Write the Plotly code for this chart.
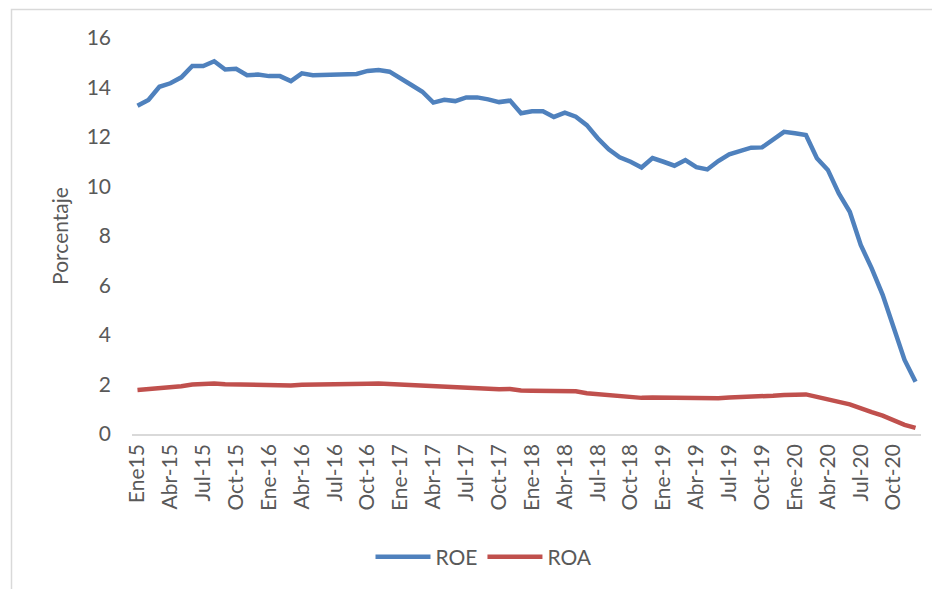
import plotly.graph_objects as go

months = ["Ene", "Feb", "Mar", "Abr", "May", "Jun", "Jul", "Ago", "Sep", "Oct", "Nov", "Dic"]
years = ["15", "16", "17", "18", "19", "20"]
categories = [f"{m}-{y}" for y in years for m in months]

roe = [13.26, 13.50, 14.03, 14.17, 14.41, 14.87, 14.87, 15.06, 14.73, 14.76, 14.50, 14.52,
       14.46, 14.46, 14.26, 14.57, 14.50, 14.52, 14.50, 14.52, 14.55, 14.67, 14.71, 14.64,
       14.35, 14.10, 13.83, 13.39, 13.50, 13.45, 13.60, 13.60, 13.52, 13.41, 13.47, 12.96,
       13.04, 13.04, 12.81, 12.98, 12.82, 12.48, 11.95, 11.50, 11.18, 11.00, 10.77, 11.15,
       11.00, 10.84, 11.07, 10.78, 10.69, 11.03, 11.30, 11.43, 11.57, 11.58, 11.90, 12.21,
       12.15, 12.08, 11.14, 10.67, 9.72, 8.98, 7.64, 6.69, 5.62, 4.34, 2.99, 2.11]

roa = [1.78, 1.81, 1.88, 1.90, 1.93, 2.00, 2.03, 2.04, 2.01, 2.00, 1.98, 1.98,
       1.98, 1.98, 1.96, 1.99, 1.99, 2.00, 2.00, 2.00, 2.01, 2.03, 2.04, 2.02,
       2.00, 1.98, 1.96, 1.91, 1.88, 1.86, 1.86, 1.86, 1.84, 1.81, 1.82, 1.76,
       1.75, 1.75, 1.73, 1.74, 1.73, 1.65, 1.61, 1.57, 1.52, 1.49, 1.46, 1.47,
       1.46, 1.44, 1.47, 1.42, 1.41, 1.44, 1.47, 1.48, 1.50, 1.53, 1.55, 1.58,
       1.60, 1.60, 1.50, 1.42, 1.30, 1.20, 1.03, 0.88, 0.74, 0.55, 0.37, 0.25]

tick_idx = list(range(0, 72, 3))
tick_text = [categories[i] for i in tick_idx]
tick_text[0] = "Ene15"

x = list(range(len(categories)))
FONT = "Lato"
GREY = "#595959"

fig = go.Figure()
fig.add_trace(go.Scatter(x=x, y=roe, name="ROE", mode="lines",
                         line=dict(color="#4F81BD", width=4.5), customdata=categories,
                         hovertemplate="%{customdata}: %{y}<extra>ROE</extra>"))
fig.add_trace(go.Scatter(x=x, y=roa, name="ROA", mode="lines",
                         line=dict(color="#C0504D", width=4.5), customdata=categories,
                         hovertemplate="%{customdata}: %{y}<extra>ROA</extra>"))

# page body has an 8px default margin; figure coords = screen coords - 8
OFF = 8
W, H = 932, 581
L, T = 132 - OFF, 38 - OFF
R = W - (921 - OFF)
B = H - (434 - OFF)
pw, ph = W - L - R, H - T - B
ybot = H - B  # figure y of plot bottom

fig.update_layout(
    width=W, height=H,
    margin=dict(l=L, r=R, t=T, b=B),
    paper_bgcolor="white", plot_bgcolor="white",
    font=dict(family=FONT, size=21, color=GREY),
    showlegend=True,
    legend=dict(orientation="h", x=(484 - OFF - L) / pw, xanchor="center",
                y=(ybot - (557 - OFF)) / ph, yanchor="middle",
                font=dict(size=21, color=GREY), itemwidth=55, traceorder="normal"),
    xaxis=dict(range=[-0.5, 71.5], tickmode="array", tickvals=tick_idx, ticktext=tick_text,
               tickangle=-90, showgrid=False, zeroline=False, showline=True,
               linecolor="#d9d9d9", linewidth=1.5, ticks="", ticklabelstandoff=0,
               tickfont=dict(size=21, color=GREY)),
    yaxis=dict(range=[0, 16], tickvals=[0, 2, 4, 6, 8, 10, 12, 14, 16], showgrid=False,
               zeroline=False, showline=False, ticks="", ticklabelstandoff=20,
               tickfont=dict(size=21, color=GREY),
               title=dict(text="Porcentaje", font=dict(size=21, color=GREY), standoff=12)),
    shapes=[dict(type="rect", xref="paper", yref="paper",
                 x0=(11.5 - OFF - L) / pw, x1=(960 - L) / pw,
                 y0=(ybot - 620) / ph, y1=(ybot - (9.5 - OFF)) / ph,
                 line=dict(color="#d9d9d9", width=1.5), fillcolor="rgba(0,0,0,0)", layer="below")],
)

fig.write_html("out.html")
